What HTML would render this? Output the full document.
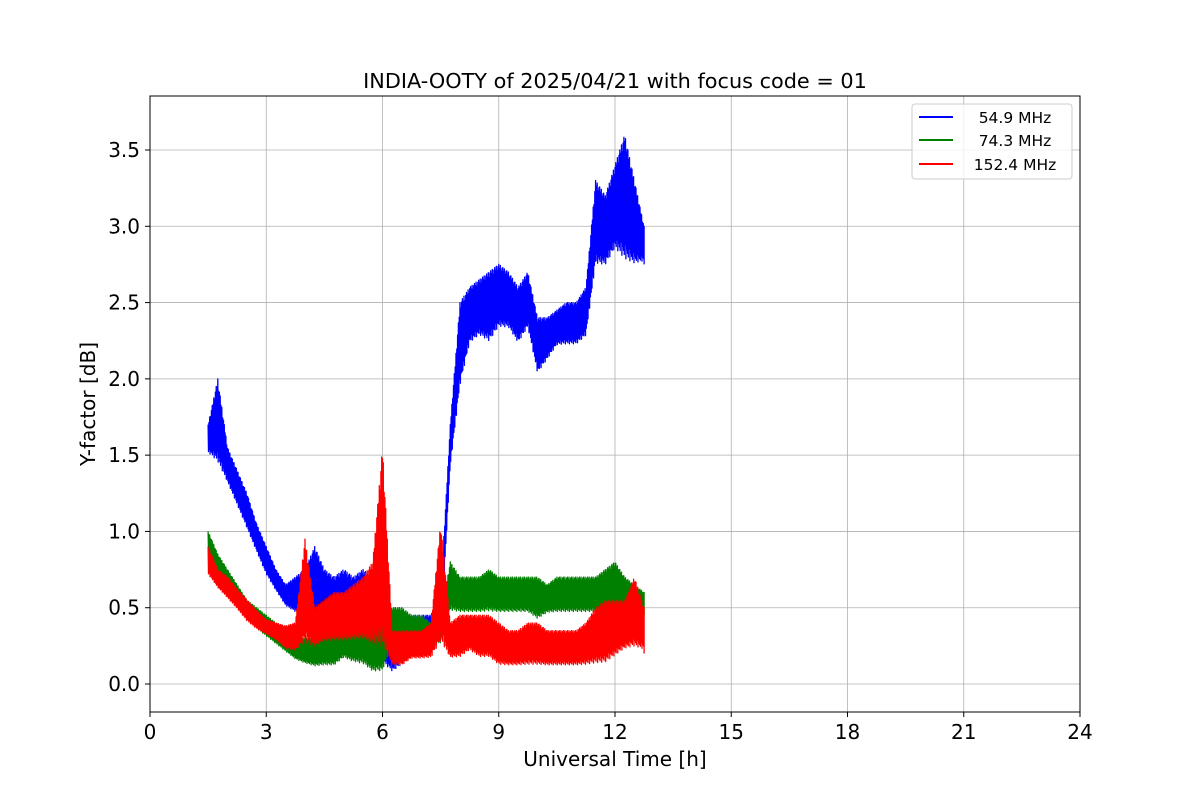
<!DOCTYPE html>
<html><head><meta charset="utf-8"><style>
body{margin:0;background:#fff;}
svg{font-family:"DejaVu Sans","Liberation Sans",sans-serif;}
</style></head><body>
<svg id="chart" width="1200" height="800">
<text x="615" y="88" font-size="20.8" text-anchor="middle">INDIA-OOTY of 2025/04/21 with focus code = 01</text>
<g id="grid"></g>
<g id="series"></g>
<rect x="150" y="96" width="930" height="616" fill="none" stroke="#000" stroke-width="1"/>
<g id="ticks"></g>
<text x="615" y="766" font-size="20" text-anchor="middle">Universal Time [h]</text>
<text x="95" y="404" font-size="20" text-anchor="middle" transform="rotate(-90 95 404)">Y-factor [dB]</text>
<g>
<rect x="912" y="104" width="160" height="75" rx="3" fill="#fff" fill-opacity="0.8" stroke="#ccc"/>
<line x1="919" y1="117" x2="953" y2="117" stroke="#0000ff" stroke-width="2"/>
<text x="1015" y="123" font-size="15.5" text-anchor="middle">54.9 MHz</text>
<line x1="919" y1="140" x2="953" y2="140" stroke="#008000" stroke-width="2"/>
<text x="1015" y="146" font-size="15.5" text-anchor="middle">74.3 MHz</text>
<line x1="919" y1="164" x2="953" y2="164" stroke="#ff0000" stroke-width="2"/>
<text x="1015" y="170" font-size="15.5" text-anchor="middle">152.4 MHz</text>
</g>
</svg>
<script>
const xTicks=[0,3,6,9,12,15,18,21,24];
const yTicks=[0.0,0.5,1.0,1.5,2.0,2.5,3.0,3.5];
const times=[1.5,1.75,2,2.25,2.5,2.75,3,3.25,3.5,3.75,4,4.25,4.5,4.75,5,5.25,5.5,5.75,6,6.25,6.5,6.75,7,7.25,7.5,7.75,8,8.25,8.5,8.75,9,9.25,9.5,9.75,10,10.25,10.5,10.75,11,11.25,11.5,11.75,12,12.25,12.5,12.75];
const blueLow=[1.5,1.4,1.3,1.15,1.0,0.85,0.7,0.6,0.5,0.45,0.4,0.4,0.35,0.3,0.3,0.3,0.3,0.25,0.1,0.05,0.1,0.15,0.15,0.2,0.25,1.4,1.9,2.2,2.25,2.2,2.3,2.3,2.2,2.3,2.0,2.1,2.2,2.2,2.2,2.25,2.7,2.7,2.8,2.7,2.7,2.75];
const blueHigh=[1.7,2.0,1.55,1.4,1.25,1.05,0.9,0.75,0.65,0.7,0.75,0.9,0.75,0.7,0.75,0.7,0.75,0.7,0.55,0.4,0.4,0.45,0.45,0.45,0.6,1.7,2.5,2.6,2.65,2.7,2.75,2.7,2.6,2.7,2.4,2.4,2.45,2.5,2.5,2.6,3.3,3.2,3.4,3.6,3.3,3.0];
const greenLow=[0.85,0.7,0.6,0.5,0.45,0.35,0.3,0.25,0.2,0.15,0.12,0.1,0.1,0.1,0.15,0.12,0.1,0.05,0.05,0.25,0.2,0.2,0.15,0.25,0.25,0.45,0.45,0.45,0.45,0.45,0.45,0.45,0.45,0.45,0.4,0.45,0.45,0.45,0.45,0.45,0.45,0.45,0.45,0.45,0.45,0.45];
const greenHigh=[1.0,0.85,0.75,0.65,0.55,0.5,0.45,0.4,0.35,0.3,0.3,0.3,0.35,0.35,0.4,0.4,0.45,0.4,0.45,0.5,0.5,0.45,0.45,0.4,0.45,0.8,0.7,0.7,0.7,0.75,0.7,0.7,0.7,0.7,0.7,0.65,0.7,0.7,0.7,0.7,0.7,0.75,0.8,0.7,0.65,0.6];
const redLow=[0.7,0.62,0.55,0.48,0.4,0.35,0.32,0.28,0.22,0.2,0.2,0.22,0.25,0.25,0.25,0.25,0.25,0.2,0.1,0.1,0.1,0.15,0.15,0.15,0.2,0.15,0.15,0.2,0.15,0.15,0.1,0.1,0.1,0.1,0.1,0.1,0.1,0.1,0.1,0.1,0.1,0.1,0.15,0.2,0.2,0.2];
const redHigh=[0.9,0.75,0.7,0.62,0.55,0.48,0.42,0.4,0.38,0.4,0.95,0.5,0.55,0.6,0.6,0.65,0.7,0.8,1.55,0.35,0.35,0.35,0.35,0.4,1.05,0.4,0.45,0.45,0.45,0.45,0.4,0.35,0.35,0.4,0.4,0.35,0.35,0.35,0.35,0.4,0.5,0.55,0.55,0.55,0.7,0.5];

const NS='http://www.w3.org/2000/svg';
function xScale(t){return 150+t*(930/24);}
function yScale(v){return 684-v*(534/3.5);}
const grid=document.getElementById('grid'),ticks=document.getElementById('ticks'),series=document.getElementById('series');
function mk(tag,attrs,parent){const e=document.createElementNS(NS,tag);for(const k in attrs)e.setAttribute(k,attrs[k]);parent.appendChild(e);return e;}
xTicks.forEach(t=>{
  const x=xScale(t);
  const g=mk('line',{x1:x,x2:x,y1:96,y2:712,stroke:'#b0b0b0','stroke-width':0.8},grid);
  
  
  const tk=mk('line',{x1:x,x2:x,y1:712,y2:717,stroke:'#000'},ticks);
  
  
  const lb=mk('text',{x:x,y:739,'font-size':20,'text-anchor':'middle'},ticks);
  lb.textContent=t;
  
  
});
yTicks.forEach(v=>{
  const y=yScale(v);
  const g=mk('line',{x1:150,x2:1080,y1:y,y2:y,stroke:'#b0b0b0','stroke-width':0.8},grid);
  
  
  const tk=mk('line',{x1:145,x2:150,y1:y,y2:y,stroke:'#000'},ticks);
  
  
  const lb=mk('text',{x:140,y:y+7,'font-size':20,'text-anchor':'end'},ticks);
  lb.textContent=v.toFixed(1);
  
  
});
const amp=[1,0.75,0.9,0.6,1,0.8,0.85,0.65,0.95,0.7];
function drawSeries(lo,hi,color,name){
  let pts=[];const sub=24;let c=0;
  for(let i=0;i<times.length-1;i++){
    for(let k=0;k<sub;k++){
      const f=k/sub;
      const t=times[i]+(times[i+1]-times[i])*f;
      const l=lo[i]+(lo[i+1]-lo[i])*f;
      const h=hi[i]+(hi[i+1]-hi[i])*f;
      const mid=(l+h)/2,half=(h-l)/2;
      const a=amp[c%amp.length];c++;
      const v=(k%2===0)?mid+half*a:mid-half*a;
      pts.push(xScale(t).toFixed(1)+','+yScale(v).toFixed(1));
    }
  }
  const n=times.length-1;
  pts.push(xScale(times[n]).toFixed(1)+','+yScale(hi[n]).toFixed(1));
  pts.push(xScale(times[n]).toFixed(1)+','+yScale(lo[n]).toFixed(1));
  const p=mk('polyline',{points:pts.join(' '),fill:'none',stroke:color,'stroke-width':1.3,'stroke-linejoin':'round'},series);
  
  
}
drawSeries(blueLow,blueHigh,'#0000ff','series-54-9-mhz');
drawSeries(greenLow,greenHigh,'#008000','series-74-3-mhz');
drawSeries(redLow,redHigh,'#ff0000','series-152-4-mhz');
</script>
</body></html>
